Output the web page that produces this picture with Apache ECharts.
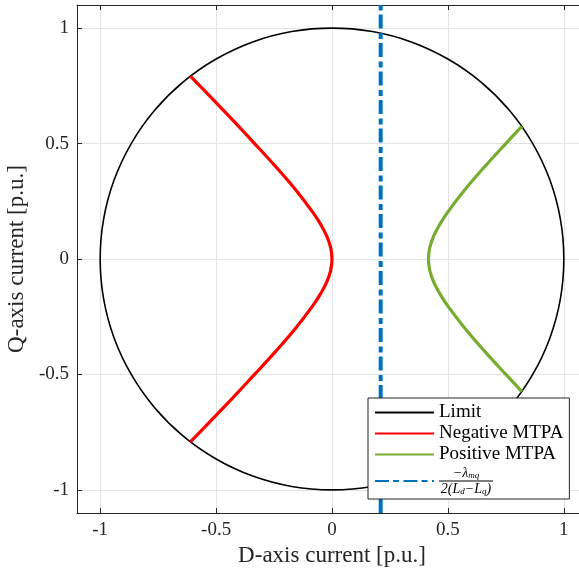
<!DOCTYPE html>
<html>
<head>
<meta charset="utf-8">
<script src="https://cdn.jsdelivr.net/npm/echarts@6/dist/echarts.min.js"></script>
<style>
  html, body { margin: 0; padding: 0; background: #fff; }
  #main { width: 579px; height: 574px; }
</style>
</head>
<body>
<div id="main"></div>
<script>
// current limit circle
var limitD = [0.5, 0.643, 0.766, 0.866, 0.94, 0.985, 1, 0.985, 0.94, 0.866, 0.766, 0.643, 0.5, 0.342, 0.174, 0,
  -0.174, -0.342, -0.5, -0.643, -0.766, -0.866, -0.94, -0.985, -1, -0.985, -0.94, -0.866, -0.766, -0.643, -0.5,
  -0.342, -0.174, 0, 0.174, 0.342, 0.5]
var limitQ = [-0.866, -0.766, -0.643, -0.5, -0.342, -0.174, 0, 0.174, 0.342, 0.5, 0.643, 0.766, 0.866, 0.94, 0.985, 1,
  0.985, 0.94, 0.866, 0.766, 0.643, 0.5, 0.342, 0.174, 0, -0.174, -0.342, -0.5, -0.643, -0.766, -0.866,
  -0.94, -0.985, -1, -0.985, -0.94, -0.866]
// negative MTPA
var negD = [-0.611, -0.522, -0.427, -0.334, -0.243, -0.157, -0.081, -0.049, -0.023, -0.006, 0,
  -0.006, -0.023, -0.049, -0.081, -0.157, -0.243, -0.334, -0.427, -0.522, -0.611]
var negQ = [0.792, 0.7, 0.6, 0.5, 0.4, 0.3, 0.2, 0.15, 0.1, 0.05, 0,
  -0.05, -0.1, -0.15, -0.2, -0.3, -0.4, -0.5, -0.6, -0.7, -0.792]
// positive MTPA
var posD = [0.819, 0.75, 0.659, 0.573, 0.497, 0.465, 0.439, 0.422, 0.416, 0.422, 0.439, 0.465, 0.497, 0.573, 0.659, 0.75, 0.819]
var posQ = [0.574, 0.5, 0.4, 0.3, 0.2, 0.15, 0.1, 0.05, 0, -0.05, -0.1, -0.15, -0.2, -0.3, -0.4, -0.5, -0.574]
// vertical line -lambda/(2(Ld-Lq))
var vlineD = [0.21, 0.21]
var vlineQ = [-1.1, 1.1]
var ticks = [-1, -0.5, 0, 0.5, 1]

function pairs(xs, ys) {
  var out = []
  for (var i = 0; i < xs.length; i++) out.push([xs[i], ys[i]])
  return out
}

var font = 'Liberation Serif'
var axisCol = '#262626'

var chart = echarts.init(document.getElementById('main'))
var option = {
  animation: false,
  textStyle: { fontFamily: font },
  grid: { left: 77, top: 5, right: -8, bottom: 61, outerBoundsMode: 'none' },
  legend: {
    orient: 'vertical',
    left: 368, top: 398,
    z: 10,
    backgroundColor: '#fff',
    borderColor: axisCol,
    borderWidth: 1,
    borderRadius: 0,
    padding: [5, 6, 3, 6],
    itemWidth: 59,
    itemHeight: 14,
    itemGap: 2,
    itemStyle: { opacity: 0 },
    data: ['Limit', 'Negative MTPA', 'Positive MTPA', 'frac'],
    textStyle: {
      fontFamily: font, fontSize: 19, color: '#000', lineHeight: 19,
      rich: {
        n: { fontFamily: font, fontSize: 14, fontStyle: 'italic', color: '#000', align: 'center', lineHeight: 13 },
        s: { fontFamily: font, fontSize: 9, fontStyle: 'italic', color: '#000', align: 'center', padding: [5, 0, 0, 0], lineHeight: 13 },
        bar: { width: 54, height: 1, lineHeight: 3, fontSize: 1, backgroundColor: '#000' }
      }
    },
    formatter: function (name) {
      if (name === 'frac') {
        return '{n|−λ}{s|mq}\n{bar| }\n{n|2(L}{s|d}{n|−L}{s|q}{n|)}'
      }
      return name
    }
  },
  xAxis: [{
    type: 'value', min: -1.1, max: 1.1, interval: 0.5,
    name: 'D-axis current [p.u.]', nameLocation: 'middle', nameGap: 28,
    nameTextStyle: { fontFamily: font, fontSize: 23, color: '#262626' },
    axisLine: { show: true, onZero: false, lineStyle: { color: axisCol } },
    axisTick: { show: true, inside: true, length: 5, lineStyle: { color: axisCol }, customValues: ticks },
    axisLabel: { fontFamily: font, fontSize: 19, color: '#262626', margin: 8, customValues: ticks },
    splitLine: { show: true, lineStyle: { color: '#e3e3e3' } }
  }, {
    type: 'value', min: -1.1, max: 1.1, position: 'top',
    axisLine: { show: true, onZero: false, lineStyle: { color: axisCol } },
    axisTick: { show: true, inside: true, length: 5, lineStyle: { color: axisCol }, customValues: ticks },
    axisLabel: { show: false },
    splitLine: { show: false }
  }],
  yAxis: {
    type: 'value', min: -1.1, max: 1.1, interval: 0.5,
    name: 'Q-axis current [p.u.]', nameLocation: 'middle', nameGap: 47,
    nameTextStyle: { fontFamily: font, fontSize: 23, color: '#262626' },
    axisLine: { show: true, onZero: false, lineStyle: { color: axisCol } },
    axisTick: { show: true, inside: true, length: 5, lineStyle: { color: axisCol }, customValues: ticks },
    axisLabel: { fontFamily: font, fontSize: 19, color: '#262626', margin: 8, customValues: ticks },
    splitLine: { show: true, lineStyle: { color: '#e3e3e3' } }
  },
  series: [
    {
      name: 'Limit', type: 'line', data: pairs(limitD, limitQ), smooth: 0.33,
      symbol: 'none', lineStyle: { color: '#000', width: 1.6 }, itemStyle: { color: '#000' }, z: 2
    },
    {
      name: 'Negative MTPA', type: 'line', data: pairs(negD, negQ), smooth: 0.4,
      symbol: 'none', lineStyle: { color: '#ff0000', width: 3.2 }, itemStyle: { color: '#ff0000' }, z: 3
    },
    {
      name: 'Positive MTPA', type: 'line', data: pairs(posD, posQ), smooth: 0.4,
      symbol: 'none', lineStyle: { color: '#77ac30', width: 3.2 }, itemStyle: { color: '#77ac30' }, z: 3
    },
    {
      name: 'frac', type: 'line', data: pairs(vlineD, vlineQ),
      symbol: 'none', lineStyle: { color: '#0072bd', width: 4, type: [14, 4, 6, 4.5] }, itemStyle: { color: '#0072bd' }, z: 3
    }
  ]
}
chart.setOption(option)
</script>
</body>
</html>
